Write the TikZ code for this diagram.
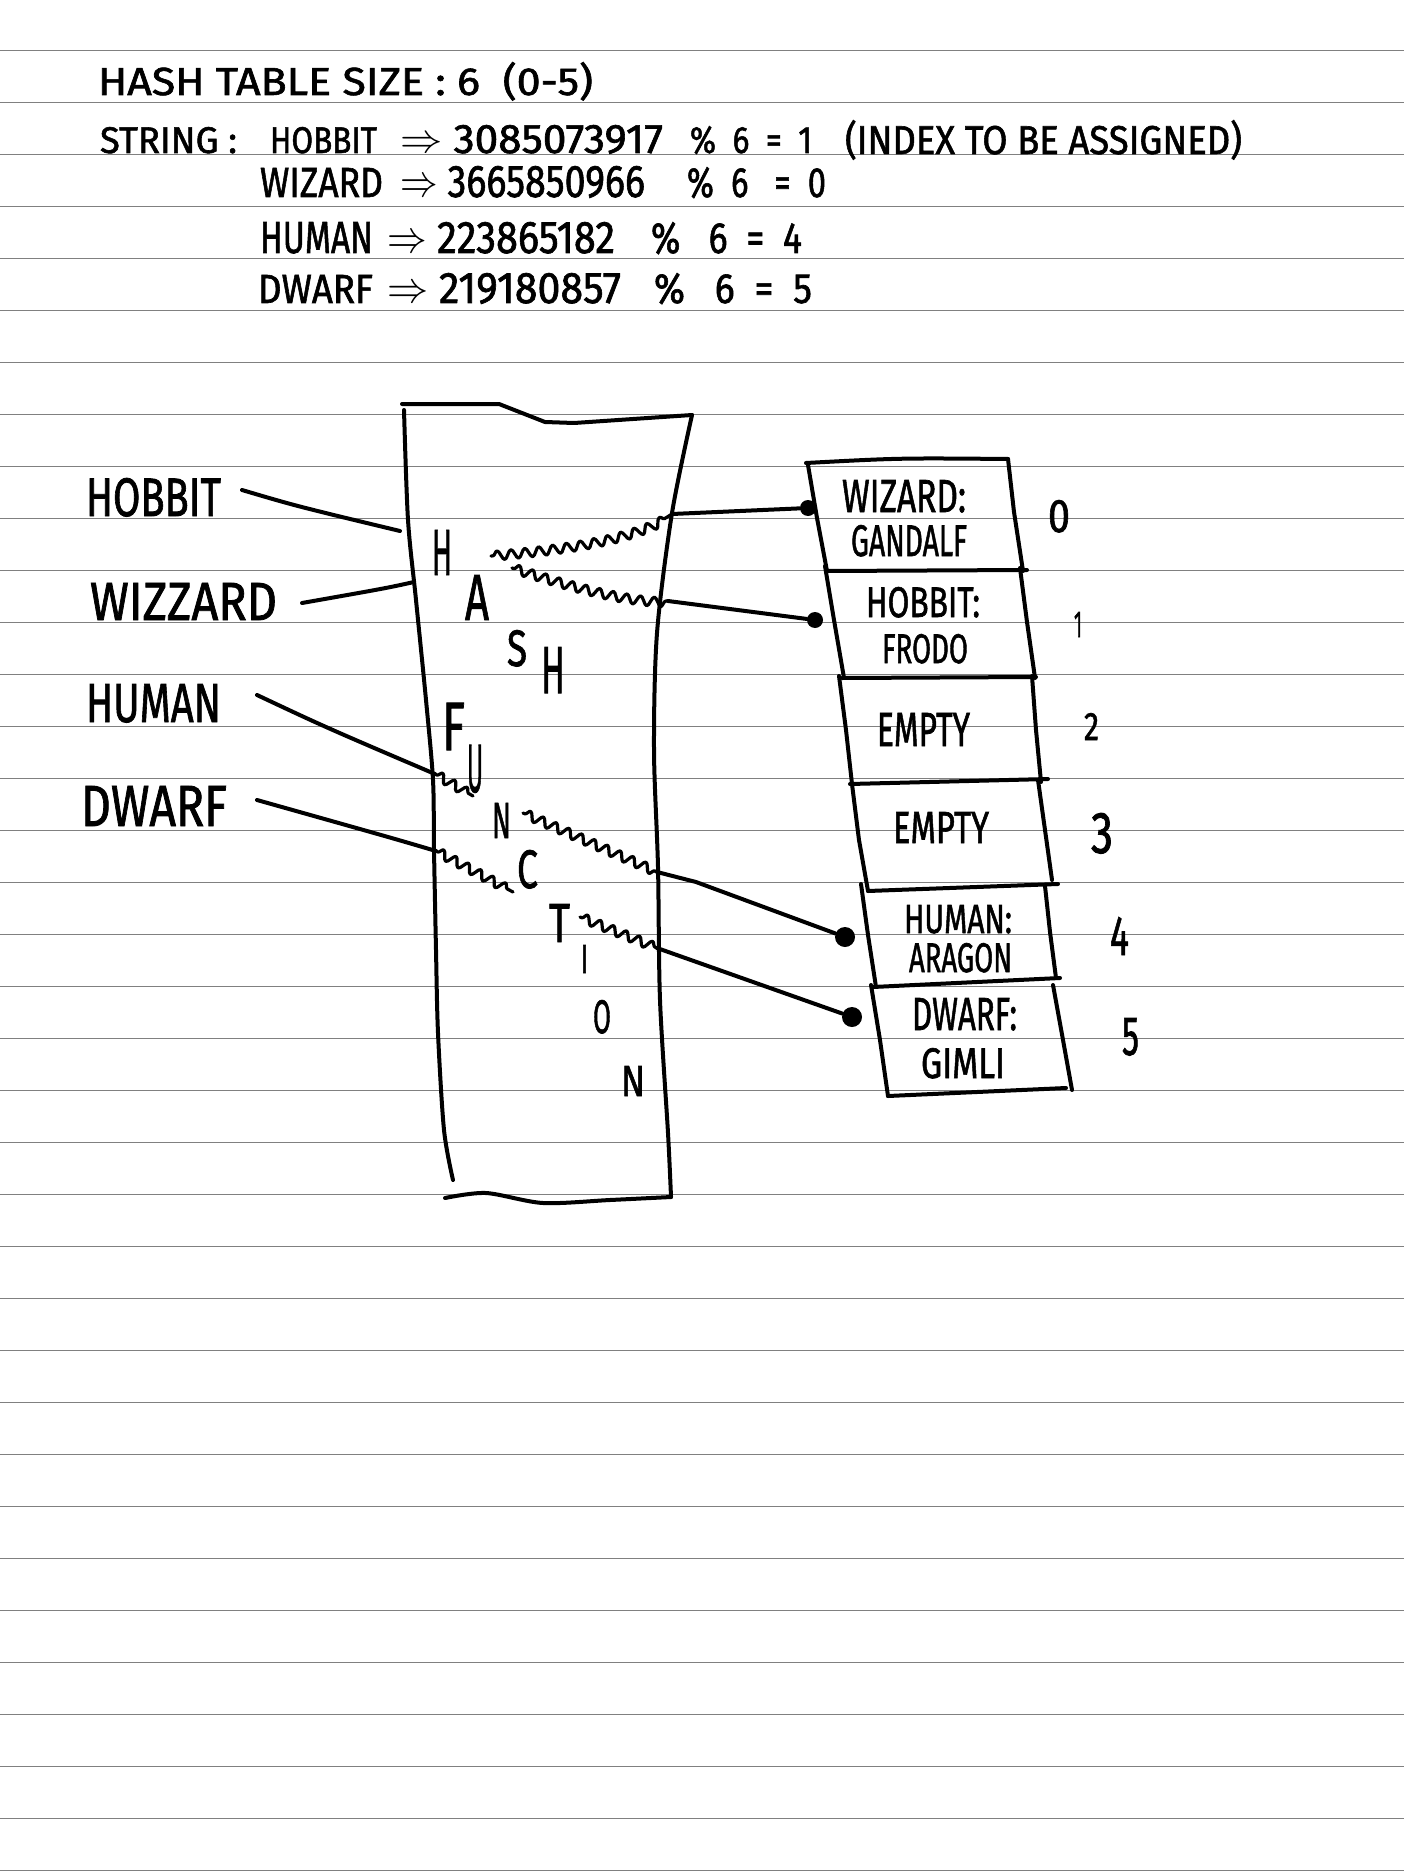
\documentclass[tikz,border=0pt]{standalone}
\usepackage{fontspec}
\setmainfont{Fira Sans}[FakeBold=1.5]
\usetikzlibrary{decorations.pathmorphing}
\newdimen\pxu \pxu=0.5pt
\newcommand\hw[3]{\resizebox{#1\pxu}{#2\pxu}{#3}}
\definecolor{rulegray}{RGB}{128,128,128}
\begin{document}
\begin{tikzpicture}[x=0.5pt,y=-0.5pt,
  ink/.style={line width=2pt, line cap=round, line join=round},
  rulestyle/.style={draw=rulegray, line width=0.8pt},
  txt/.style={anchor=base west, inner sep=0pt, outer sep=0pt},
  dotnode/.style={circle, fill=black, inner sep=0pt, minimum size=#1},
  squig/.style={line width=1.6pt, line cap=round, line join=round,
    decorate, decoration={snake, segment length=7pt, amplitude=2.3pt, pre length=1pt, post length=1pt}}]
\fill[white] (0,0) rectangle (1404,1872);
\useasboundingbox (0,0) rectangle (1404,1872);
% ruled paper
\foreach \k in {0,...,35} \draw[rulestyle] (0,{50.5+52*\k}) -- (1404,{50.5+52*\k});

% header
\node[txt] (h1) at (98,95) {\hw{495}{33}{HASH TABLE SIZE : 6 \ (0-5)}};
\node[txt] (h2a) at (100,153) {\hw{137}{26}{STRING :}};
\node[txt] (h2b) at (270,153) {\hw{107}{26}{HOBBIT}};
\node[txt] (h2c) at (400,153) {\hw{263}{28}{$\Rightarrow$ 3085073917}};
\node[txt] (h2d) at (690,153) {\hw{122}{27}{\% \ 6 \ = \ 1}};
\node[txt] (h2e) at (845,154) {\hw{397}{34}{(INDEX TO BE ASSIGNED)}};
\node[txt] (h3a) at (260,197) {\hw{123}{29}{WIZARD}};
\node[txt] (h3b) at (400,197) {\hw{245}{31}{$\Rightarrow$ 3665850966}};
\node[txt] (h3c) at (687,197) {\hw{139}{30}{\% \ 6 \ \ = \ 0}};
\node[txt] (h4a) at (260,253) {\hw{113}{31}{HUMAN}};
\node[txt] (h4b) at (387,253) {\hw{228}{31}{$\Rightarrow$ 223865182}};
\node[txt] (h4c) at (651,253) {\hw{151}{31}{\% \ \ 6 \ = \ 4}};
\node[txt] (h5a) at (258,303) {\hw{115}{28}{DWARF}};
\node[txt] (h5b) at (387,303) {\hw{234}{30}{$\Rightarrow$ 219180857}};
\node[txt] (h5c) at (654,303) {\hw{158}{30}{\% \ \ 6 \ = \ 5}};

% left labels
\node[txt] (lhob) at (86,516) {\hw{135}{38}{HOBBIT}};
\node[txt] (lwiz) at (90,620) {\hw{187}{37}{WIZZARD}};
\node[txt] (lhum) at (86,722) {\hw{135}{38}{HUMAN}};
\node[txt] (ldwa) at (81,826) {\hw{146}{40}{DWARF}};

% the strip
\draw[ink] (402,404) -- (499,404) -- (545,422) -- (574,423) -- (692,415);
\draw[ink] plot[smooth] coordinates {(692,415) (672,513) (657,633) (654,750) (658,867) (660,1000) (668,1133) (671,1197)};
\draw[ink] plot[smooth] coordinates {(404,410) (408,520) (416,600) (426,700) (433,780) (434,850) (436,950) (438,1033) (444,1130) (453,1180)};
\draw[ink] plot[smooth] coordinates {(445,1198) (486,1193) (543,1203) (610,1200) (671,1197)};

% letters in the strip
\node[txt] (c1) at (432,575) {\hw{20}{45}{H}};
\node[txt] (c2) at (465,620) {\hw{24}{45}{A}};
\node[txt] (c3) at (507,666) {\hw{20}{36}{S}};
\node[txt] (c4) at (541,693) {\hw{24}{46}{H}};
\node[txt] (c5) at (442,750) {\hw{23}{47}{F}};
\node[txt] (c6) at (467,792) {\hw{16}{47}{U}};
\node[txt] (c7) at (492,838) {\hw{19}{35}{N}};
\node[txt] (c8) at (517,888) {\hw{21}{38}{C}};
\node[txt] (c9) at (549,942) {\hw{21}{38}{T}};
\node[txt] (c10) at (581,973) {\hw{7}{28}{I}};
\node[txt] (c11) at (593,1033) {\hw{18}{33}{O}};
\node[txt] (c12) at (621,1096) {\hw{24}{30}{N}};

% table boxes
\draw[ink] (806,463) .. controls (900,458) .. (1008,459);
\draw[ink] (808,465) -- (817,518) -- (827,571);
\draw[ink] (825,566) -- (834,620) -- (844,678);
\draw[ink] (839,676) -- (846,730) -- (852,784);
\draw[ink] (852,784) -- (859,840) -- (868,891);
\draw[ink] (861,884) -- (868,935) -- (876,987);
\draw[ink] (871,985) -- (880,1040) -- (888,1096);
\draw[ink] (1008,459) -- (1014,512) -- (1023,571);
\draw[ink] (1020,568) -- (1027,622) -- (1035,678);
\draw[ink] (1032,676) -- (1036,730) -- (1041,782);
\draw[ink] (1038,780) -- (1045,830) -- (1052,880);
\draw[ink] (1045,886) -- (1050,932) -- (1056,978);
\draw[ink] (1053,985) -- (1063,1040) -- (1072,1090);
\draw[ink] (826,571) -- (1027,570);
\draw[ink] (842,678) -- (1036,677);
\draw[ink] (850,784) -- (1048,779);
\draw[ink] (868,891) -- (1058,884);
\draw[ink] (873,987) -- (1060,978);
\draw[ink] (888,1096) -- (1066,1088);

% table texts
\node[txt] (t0a) at (842,512) {\hw{124}{32}{WIZARD:}};
\node[txt] (t0b) at (851,556) {\hw{116}{31}{GANDALF}};
\node[txt] (t1a) at (866,617) {\hw{114}{30}{HOBBIT:}};
\node[txt] (t1b) at (882,663) {\hw{86}{29}{FRODO}};
\node[txt] (t2) at (877,746) {\hw{93}{33}{EMPTY}};
\node[txt] (t3) at (893,843) {\hw{96}{31}{EMPTY}};
\node[txt] (t4a) at (904,933) {\hw{108}{28}{HUMAN:}};
\node[txt] (t4b) at (909,972) {\hw{103}{29}{ARAGON}};
\node[txt] (t5a) at (912,1030) {\hw{105}{32}{DWARF:}};
\node[txt] (t5b) at (921,1078) {\hw{84}{30}{GIMLI}};

% index labels
\node[txt] (i0) at (1048,532) {\hw{22}{32}{0}};
\node[txt] (i1) at (1074,637) {\hw{8}{25}{1}};
\node[txt] (i2) at (1084,740) {\hw{15}{27}{2}};
\node[txt] (i3) at (1091,853) {\hw{22}{40}{3}};
\node[txt] (i4) at (1110,955) {\hw{19}{38}{4}};
\node[txt] (i5) at (1122,1055) {\hw{17}{37}{5}};

% dots
\node[dotnode=8pt] (d0) at (808,508) {};
\node[dotnode=8pt] (d1) at (815,620) {};
\node[dotnode=10pt] (d4) at (845,937) {};
\node[dotnode=10pt] (d5) at (852,1017) {};

% label connectors
\coordinate (hobA) at (242,490); \coordinate (hobB) at (400,531);
\coordinate (wizA) at (302,603); \coordinate (wizB) at (414,582);
\coordinate (humA) at (257,695); \coordinate (humB) at (435,774);
\coordinate (dwaA) at (257,800); \coordinate (dwaB) at (436,851);
\draw[ink] (hobA) .. controls (296,506) .. (hobB);
\draw[ink] (wizA) .. controls (387,588) .. (wizB);
\draw[ink] (humA) .. controls (325,727) .. (humB);
\draw[ink] (dwaA) .. controls (392,838) .. (dwaB);

% squiggles and links
\coordinate (s1a) at (491,556); \coordinate (s1b) at (672,514);
\coordinate (s2a) at (512,568); \coordinate (s2b) at (668,601);
\coordinate (s3b) at (473,796);
\coordinate (s4a) at (523,813); \coordinate (s4b) at (657,872); \coordinate (s4c) at (696,882);
\coordinate (s5b) at (513,892);
\coordinate (s6a) at (580,917); \coordinate (s6b) at (657,948);
\draw[squig] (s1a) .. controls (590,548) and (640,535) .. (s1b);
\draw[ink] (s1b) -- (d0);
\draw[squig] (s2a) .. controls (580,590) and (630,602) .. (s2b);
\draw[ink] (s2b) -- (d1);
\draw[squig] (humB) -- (s3b);
\draw[squig] (s4a) -- (s4b);
\draw[ink] (s4b) -- (s4c) -- (d4);
\draw[squig] (dwaB) -- (s5b);
\draw[squig] (s6a) -- (s6b);
\draw[ink] (s6b) -- (d5);
\end{tikzpicture}
\end{document}
